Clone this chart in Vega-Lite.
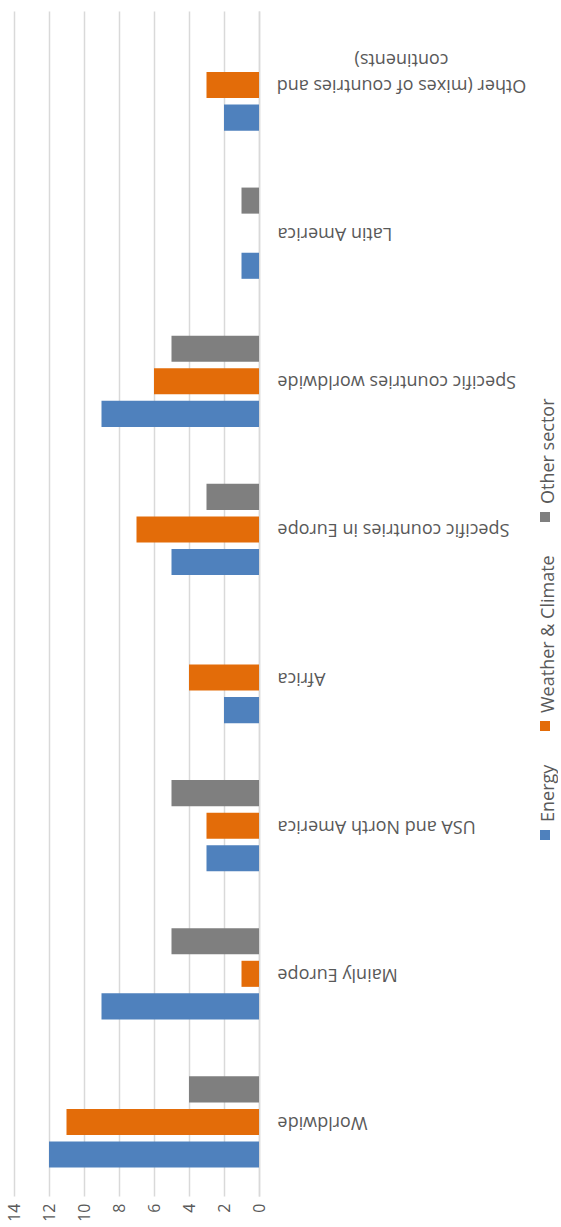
{
  "$schema": "https://vega.github.io/schema/vega-lite/v6.json",
  "width": 245,
  "height": 1185,
  "padding": {"left": 6, "top": 11, "right": 0, "bottom": 0},
  "data": {
    "values": [
      {"region": "Worldwide", "sector": "Energy", "count": 12},
      {"region": "Worldwide", "sector": "Weather & Climate", "count": 11},
      {"region": "Worldwide", "sector": "Other sector", "count": 4},
      {"region": "Mainly Europe", "sector": "Energy", "count": 9},
      {"region": "Mainly Europe", "sector": "Weather & Climate", "count": 1},
      {"region": "Mainly Europe", "sector": "Other sector", "count": 5},
      {"region": "USA and North America", "sector": "Energy", "count": 3},
      {"region": "USA and North America", "sector": "Weather & Climate", "count": 3},
      {"region": "USA and North America", "sector": "Other sector", "count": 5},
      {"region": "Africa", "sector": "Energy", "count": 2},
      {"region": "Africa", "sector": "Weather & Climate", "count": 4},
      {"region": "Specific countries in Europe", "sector": "Energy", "count": 5},
      {"region": "Specific countries in Europe", "sector": "Weather & Climate", "count": 7},
      {"region": "Specific countries in Europe", "sector": "Other sector", "count": 3},
      {"region": "Specific countries worldwide", "sector": "Energy", "count": 9},
      {"region": "Specific countries worldwide", "sector": "Weather & Climate", "count": 6},
      {"region": "Specific countries worldwide", "sector": "Other sector", "count": 5},
      {"region": "Latin America", "sector": "Energy", "count": 1},
      {"region": "Latin America", "sector": "Other sector", "count": 1},
      {"region": "Other (mixes of countries and continents)", "sector": "Energy", "count": 2},
      {"region": "Other (mixes of countries and continents)", "sector": "Weather & Climate", "count": 3}
    ]
  },
  "mark": {"type": "bar"},
  "encoding": {
    "y": {
      "field": "region",
      "type": "nominal",
      "sort": [
        "Other (mixes of countries and continents)",
        "Latin America",
        "Specific countries worldwide",
        "Specific countries in Europe",
        "Africa",
        "USA and North America",
        "Mainly Europe",
        "Worldwide"
      ],
      "scale": {"paddingInner": 0.34, "paddingOuter": 0.17},
      "axis": {
        "orient": "right",
        "title": null,
        "ticks": false,
        "domain": true,
        "domainColor": "#d9d9d9",
        "domainWidth": 1.5,
        "labelAngle": 180,
        "labelAlign": {
          "condition": {"test": "datum.value == 'Other (mixes of countries and continents)'", "value": "center"},
          "value": "right"
        },
        "labelPadding": {
          "condition": {"test": "datum.value == 'Other (mixes of countries and continents)'", "value": 142},
          "value": 18
        },
        "labelBaseline": "middle",
        "labelFontSize": 18,
        "labelColor": "#595959",
        "labelLimit": 400,
        "labelLineHeight": 26,
        "labelExpr": "datum.value == 'Other (mixes of countries and continents)' ? ['Other (mixes of countries and', 'continents)'] : datum.value"
      }
    },
    "yOffset": {
      "field": "sector",
      "type": "nominal",
      "sort": ["Other sector", "Weather & Climate", "Energy"],
      "scale": {"paddingInner": 0.2, "paddingOuter": 0.1}
    },
    "x": {
      "field": "count",
      "type": "quantitative",
      "scale": {"domain": [0, 14], "reverse": true, "nice": false},
      "axis": {
        "values": [0, 2, 4, 6, 8, 10, 12, 14],
        "title": null,
        "labelAngle": 270,
        "labelFontSize": 16,
        "labelColor": "#595959",
        "labelPadding": 7,
        "labelFlush": false,
        "labelOverlap": false,
        "ticks": false,
        "domain": false,
        "grid": true,
        "gridColor": "#d9d9d9",
        "gridWidth": 1.5
      }
    },
    "color": {
      "field": "sector",
      "type": "nominal",
      "scale": {
        "domain": ["Other sector", "Weather & Climate", "Energy"],
        "range": ["#7F7F7F", "#E36C09", "#4F81BD"]
      },
      "legend": {
        "orient": "none",
        "legendX": 522,
        "legendY": 497,
        "title": null,
        "direction": "vertical",
        "symbolType": "square",
        "symbolSize": 100,
        "symbolStrokeWidth": 0,
        "labelFontSize": 18,
        "labelColor": "#595959",
        "labelLimit": 0,
        "labelOffset": -5,
        "labelAlign": "left",
        "labelBaseline": "middle",
        "rowPadding": 33,
        "padding": 0,
        "encode": {
          "labels": {"update": {"angle": {"value": 270}, "dx": {"value": 13}}}
        }
      }
    }
  },
  "config": {
    "view": {"stroke": null},
    "font": "Open Sans"
  }
}
